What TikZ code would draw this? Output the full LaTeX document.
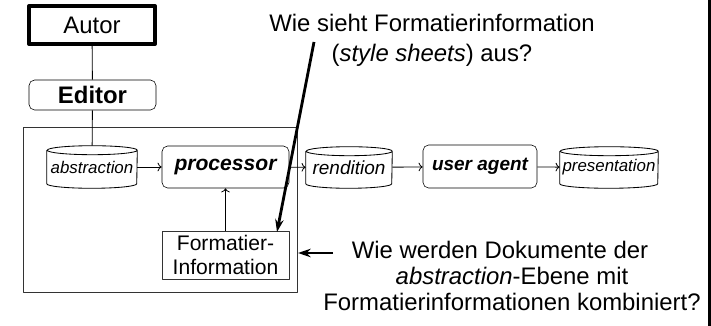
\documentclass[tikz,border=0pt]{standalone}
\usepackage{fontspec}
\setmainfont{Liberation Sans}
\usetikzlibrary{arrows.meta}

\tikzset{
  pbox/.style={draw,rounded corners=4pt,inner sep=0pt},
  store/.style={inner sep=0pt,font=\fontsize{12}{14}\selectfont\itshape},
  flow/.style={->,line width=0.6pt},
  hint/.style={-{Stealth[length=9pt,width=6pt]},line width=2pt},
  qtext/.style={align=center,inner sep=0pt,font=\fontsize{17}{20}\selectfont},
}
% drum outline round a named node: #1 node, #2 half width
\newcommand\drum[2]{%
  \draw[line width=0.6pt] ([yshift=-3.2pt]#1.north west) -- ([yshift=3.2pt]#1.south west)
    arc[start angle=180,end angle=360,x radius=#2,y radius=3.2pt]
    -- ([yshift=-3.2pt]#1.north east)
    arc[start angle=0,end angle=180,x radius=#2,y radius=3.2pt]
    arc[start angle=180,end angle=360,x radius=#2,y radius=3.2pt];}

\begin{document}
\begin{tikzpicture}[x=0.025cm,y=-0.025cm,line join=round]
  \useasboundingbox (0,0) rectangle (711,326);
  % frame of the processing step
  \draw[line width=0.7pt,black!80] (23,127) rectangle (297,292);
  \fill (708,0) rectangle (711,326);

  \node[draw,line width=2.8pt,minimum width=3.15cm,minimum height=0.95cm,font=\fontsize{17}{20}\selectfont] (autor) at (92,25) {Autor};
  \node[pbox,minimum width=3.175cm,minimum height=0.75cm,font=\fontsize{17}{20}\selectfont\bfseries] (editor) at (92.5,95) {Editor};

  \node[store,minimum width=2.25cm,minimum height=1.05cm] (abstr) at (92,167) {abstraction};
  \node[pbox,minimum width=3.175cm,minimum height=1.05cm,font=\fontsize{15}{18}\selectfont\bfseries\itshape] (proc) at (225.5,167) {processor};
  \node[draw,black!80,text=black,inner sep=0pt,minimum width=3.175cm,minimum height=1.2cm,align=center,font=\fontsize{15}{17}\selectfont] (fmt) at (225.5,255) {Formatier-\\Information};
  \node[store,minimum width=2.15cm,minimum height=1.025cm,font=\fontsize{13.5}{16}\selectfont\itshape] (rend) at (349,167.5) {rendition};
  \node[pbox,minimum width=2.85cm,minimum height=1.075cm,font=\fontsize{13.5}{16}\selectfont\bfseries\itshape] (agent) at (480,166.5) {user agent};
  \node[store,minimum width=2.45cm,minimum height=1.025cm] (pres) at (609,167.5) {presentation};
  \drum{abstr}{1.125cm}
  \drum{rend}{1.075cm}
  \drum{pres}{1.225cm}

  \draw[line width=0.6pt] (autor) -- (editor);
  \draw[line width=0.6pt] (editor) -- (abstr);
  \draw[flow] (abstr) -- (proc);
  \draw[flow] (fmt) -- (proc);
  \draw[flow] (proc) -- (rend);
  \draw[flow] (rend) -- (agent);
  \draw[flow] (agent) -- (pres);

  % questions
  \node[qtext,font=\fontsize{17}{21.3}\selectfont] (q1) at (432,40) {Wie sieht Formatierinformation\\(\textit{style sheets}) aus?};
  \node[qtext,font=\fontsize{17}{18.5}\selectfont] (q2) at (512,276) {Wie werden Dokumente der\hspace*{0.6cm}\\\textit{abstraction}-Ebene mit\\Formatierinformationen kombiniert?};

  \coordinate (t1) at (314,42);
  \coordinate (h1) at (277,232);
  \coordinate (t2) at (333,253);
  \coordinate (h2) at (298,253);
  \draw[hint] (t1) -- (h1);
  \draw[hint] (t2) -- (h2);
\end{tikzpicture}
\end{document}
